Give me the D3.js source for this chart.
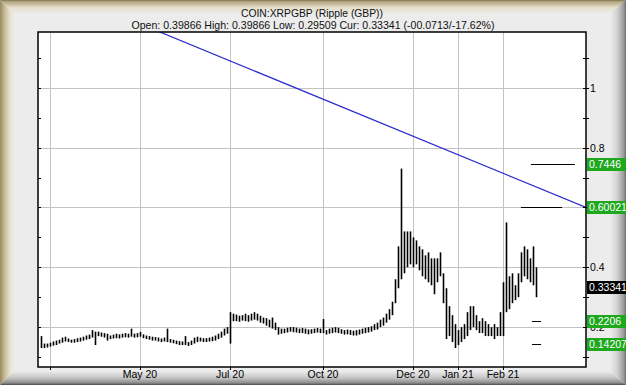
<!DOCTYPE html>
<html>
<head>
<meta charset="utf-8">
<script src="https://cdn.jsdelivr.net/npm/d3@7"></script>
<style>
  html, body { margin: 0; padding: 0; background: #ececec; }
  svg { display: block; font-family: "Liberation Sans", Arial, sans-serif; }
</style>
</head>
<body>
<div id="chart"></div>
<script>
// bar i = 1..166, one bar per period (high / low)
const highs = [
  .17, .145, .145, .148, .152, .155, .158, .165, .168, .162,
  .158, .16, .163, .165, .168, .172, .175, .19, .185, .185,
  .182, .18, .178, .172, .175, .178, .176, .178, .18, .178,
  .195, .178, .18, .184, .176, .172, .17, .168, .167, .165,
  .162, .165, .195, .16, .158, .155, .153, .152, .17, .15,
  .155, .165, .168, .165, .163, .163, .165, .168, .172, .178,
  .185, .195, .2, .25, .245, .242, .238, .24, .245, .24,
  .245, .25, .245, .238, .232, .23, .225, .232, .215, .2,
  .195, .195, .198, .2, .2, .198, .195, .197, .195, .192,
  .193, .195, .197, .195, .227, .19, .195, .198, .2, .198,
  .193, .19, .192, .19, .188, .19, .192, .195, .198, .2,
  .203, .21, .215, .225, .232, .245, .26, .285, .36, .47,
  .73, .52, .52, .52, .5, .49, .47, .46, .44, .45,
  .43, .43, .43, .45, .38, .33, .27, .24, .21, .19,
  .2, .21, .25, .27, .27, .24, .22, .23, .22, .21,
  .2, .21, .2, .25, .35, .55, .37, .38, .34, .38,
  .45, .47, .46, .43, .47, .4
];
const lows = [
  .13, .13, .132, .135, .138, .14, .145, .148, .152, .15,
  .148, .148, .15, .152, .155, .158, .16, .165, .14, .17,
  .168, .165, .155, .16, .162, .163, .162, .165, .166, .165,
  .168, .165, .166, .168, .163, .16, .158, .155, .155, .152,
  .15, .152, .15, .148, .146, .143, .14, .14, .14, .137,
  .14, .145, .15, .152, .15, .15, .152, .153, .155, .16,
  .165, .172, .178, .145, .22, .22, .218, .222, .22, .218,
  .222, .225, .222, .215, .212, .205, .2, .195, .19, .175,
  .178, .18, .182, .185, .183, .182, .18, .18, .178, .176,
  .178, .18, .182, .18, .18, .175, .178, .18, .182, .18,
  .178, .175, .176, .174, .172, .172, .175, .178, .18, .182,
  .185, .19, .192, .2, .205, .215, .225, .24, .28, .33,
  .36, .38, .4, .41, .4, .41, .39, .37, .36, .35,
  .34, .31, .35, .37, .28, .16, .17, .15, .13, .14,
  .15, .16, .17, .19, .2, .19, .18, .18, .17, .17,
  .17, .16, .17, .17, .17, .25, .26, .28, .29, .3,
  .35, .37, .36, .35, .34, .3
];

const monthIdx = [4, 34, 64, 95, 125, 140, 155];
const monthLabels = ["", "May 20", "Jul 20", "Oct 20", "Dec 20", "Jan 21", "Feb 21"];
const yTicks = [0.2, 0.4, 0.6, 0.8, 1];
const yLabelTicks = [0.2, 0.4, 0.8, 1]; // 0.6 sits under the 0.60021 tag
const yMinor = [0.1, 0.3, 0.5, 0.7, 0.9, 1.1];

// trend line (index, value) and level lines
const trendIdx = [35, 182.67];
const trendVal = [1.21, 0.6002];
const levelVals = [0.7446, 0.6002, 0.2206, 0.14207];
const levelFrom = [164.3, 161, 164.7, 164.7];
const levelTo = [179, 174.7, 167.7, 167.7];

// price tags on the right axis
const tagVals = [0.7446, 0.60021, 0.33341, 0.2206, 0.14207];
const tagText = ["0.7446", "0.60021", "0.33341", "0.2206", "0.14207"];
const tagKind = ["level", "level", "cur", "level", "level"];

const W = 626, H = 385;
const plot = { left: 38, top: 32, right: 586, bottom: 367 };

const svg = d3.select('#chart').append('svg')
  .attr('width', W).attr('height', H);

const defs = svg.append('defs');

function grad(id, x1, y1, x2, y2, stops) {
  const g = defs.append('linearGradient').attr('id', id)
    .attr('x1', x1).attr('y1', y1).attr('x2', x2).attr('y2', y2);
  stops.forEach(s => g.append('stop').attr('offset', s[0]).attr('stop-color', s[1]));
}

grad('gTop', 0, 0, 0, 1, [[0, '#7d7352'], [0.12, '#b3a67f'], [0.55, '#e6dfcb'], [1, '#ececec']]);
grad('gLeft', 0, 0, 1, 0, [[0, '#978a60'], [0.35, '#c9bd98'], [0.7, '#e6e0cd'], [1, '#ececec']]);
grad('gRight', 0, 0, 1, 0, [[0, '#ececec'], [0.45, '#d2d2d2'], [0.85, '#9a9a9a'], [1, '#6e6e6e']]);
grad('gBottom', 0, 0, 0, 1, [[0, '#ececec'], [0.5, '#c4c4c4'], [0.85, '#8c8c8c'], [1, '#4a4a4a']]);

// background + bevel frame
svg.append('rect').attr('width', W).attr('height', H).attr('fill', '#ececec');
const bevel = 14;
svg.append('polygon')
  .attr('points', `0,0 ${W},0 ${W - bevel},${bevel} ${bevel},${bevel}`)
  .attr('fill', 'url(#gTop)');
svg.append('polygon')
  .attr('points', `0,0 ${bevel},${bevel} ${bevel},${H - bevel} 0,${H}`)
  .attr('fill', 'url(#gLeft)');
svg.append('polygon')
  .attr('points', `${W},0 ${W},${H} ${W - 16},${H - bevel} ${W - 16},${bevel}`)
  .attr('fill', 'url(#gRight)');
svg.append('polygon')
  .attr('points', `0,${H} ${W},${H} ${W - 16},${H - bevel} ${bevel},${H - bevel}`)
  .attr('fill', 'url(#gBottom)');

// titles
svg.append('text').attr('x', 312).attr('y', 17)
  .attr('text-anchor', 'middle').attr('font-size', 11).attr('fill', '#111')
  .attr('textLength', 142).attr('lengthAdjust', 'spacingAndGlyphs')
  .text('COIN:XRPGBP (Ripple (GBP))');
svg.append('text').attr('x', 313).attr('y', 28.5)
  .attr('text-anchor', 'middle').attr('font-size', 11).attr('fill', '#111')
  .attr('textLength', 363).attr('lengthAdjust', 'spacingAndGlyphs')
  .text('Open: 0.39866 High: 0.39866 Low: 0.29509 Cur: 0.33341 (-00.0713/-17.62%)');

// scales
const x = d3.scaleLinear().domain([0, 182.67]).range([plot.left, plot.right]);
const y = d3.scaleLinear().domain([0.0667, 1.1867]).range([plot.bottom, plot.top]);

svg.append('rect')
  .attr('x', plot.left).attr('y', plot.top)
  .attr('width', plot.right - plot.left).attr('height', plot.bottom - plot.top)
  .attr('fill', '#fff');

defs.append('clipPath').attr('id', 'clip').append('rect')
  .attr('x', plot.left).attr('y', plot.top)
  .attr('width', plot.right - plot.left).attr('height', plot.bottom - plot.top);

// grid
const grid = svg.append('g').attr('stroke', '#c2c2c2').attr('stroke-width', 1);
grid.selectAll('line.h').data(yTicks).join('line')
  .attr('x1', plot.left).attr('x2', plot.right)
  .attr('y1', d => Math.round(y(d)) + 0.5).attr('y2', d => Math.round(y(d)) + 0.5);
grid.selectAll('line.v').data(monthIdx).join('line')
  .attr('y1', plot.top).attr('y2', plot.bottom)
  .attr('x1', d => Math.round(x(d)) + 0.5).attr('x2', d => Math.round(x(d)) + 0.5);

// price bars (high-low)
const bars = d3.range(highs.length).map(i => ({ i: i + 1, hi: highs[i], lo: lows[i] }));
svg.append('g').attr('clip-path', 'url(#clip)')
  .selectAll('line').data(bars).join('line')
  .attr('x1', d => Math.round(x(d.i)) + 0.5).attr('x2', d => Math.round(x(d.i)) + 0.5)
  .attr('y1', d => y(d.hi)).attr('y2', d => y(d.lo))
  .attr('stroke', '#000').attr('stroke-width', 1.6);

// level lines
svg.append('g').selectAll('line').data(levelVals).join('line')
  .attr('x1', (d, k) => x(levelFrom[k])).attr('x2', (d, k) => x(levelTo[k]))
  .attr('y1', d => Math.round(y(d)) + 0.5).attr('y2', d => Math.round(y(d)) + 0.5)
  .attr('stroke', '#000').attr('stroke-width', 1);

// trend line
svg.append('line').attr('clip-path', 'url(#clip)')
  .attr('x1', x(trendIdx[0])).attr('y1', y(trendVal[0]))
  .attr('x2', x(trendIdx[1])).attr('y2', y(trendVal[1]))
  .attr('stroke', '#2a2ad0').attr('stroke-width', 1.2);

// plot border
svg.append('rect')
  .attr('x', plot.left).attr('y', plot.top)
  .attr('width', plot.right - plot.left).attr('height', plot.bottom - plot.top)
  .attr('fill', 'none').attr('stroke', '#000').attr('stroke-width', 1.5);

// ticks
const allY = yTicks.concat(yMinor);
svg.append('g').selectAll('line').data(allY).join('line')
  .attr('x1', plot.right - 3).attr('x2', plot.right + 3)
  .attr('y1', d => Math.round(y(d)) + 0.5).attr('y2', d => Math.round(y(d)) + 0.5)
  .attr('stroke', '#000');
svg.append('g').selectAll('line').data(allY).join('line')
  .attr('x1', plot.left).attr('x2', plot.left + 3)
  .attr('y1', d => Math.round(y(d)) + 0.5).attr('y2', d => Math.round(y(d)) + 0.5)
  .attr('stroke', '#000');
svg.append('g').selectAll('line').data(monthIdx).join('line')
  .attr('x1', d => Math.round(x(d)) + 0.5).attr('x2', d => Math.round(x(d)) + 0.5)
  .attr('y1', plot.bottom).attr('y2', plot.bottom + 3)
  .attr('stroke', '#000');

// y labels
svg.append('g').selectAll('text').data(yLabelTicks).join('text')
  .attr('x', plot.right + 4).attr('y', d => y(d) + 4)
  .attr('font-size', 10.5).attr('fill', '#000')
  .text(d => d3.format('~g')(d));

// x labels
svg.append('g').selectAll('text').data(monthIdx).join('text')
  .attr('x', d => x(d)).attr('y', 378)
  .attr('text-anchor', 'middle').attr('font-size', 10.5).attr('fill', '#000')
  .text((d, k) => monthLabels[k]);

// price tags
const tags = svg.append('g').selectAll('g').data(tagVals).join('g')
  .attr('transform', d => `translate(${plot.right + 1},${Math.round(y(d)) - 6})`);
tags.append('rect').attr('width', 40).attr('height', 13)
  .attr('fill', (d, k) => tagKind[k] === 'cur' ? '#000' : '#1ea81e');
tags.append('text').attr('x', 2).attr('y', 10)
  .attr('font-size', 10.5).attr('fill', '#fff')
  .text((d, k) => tagText[k]);
</script>
</body>
</html>
